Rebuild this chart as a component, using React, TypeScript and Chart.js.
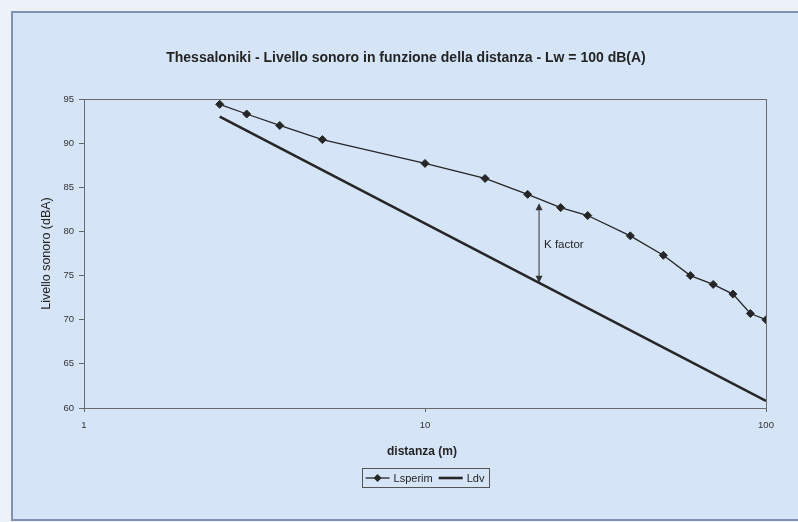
import React, { useEffect, useRef } from "react";
import { Chart, registerables } from "chart.js";

Chart.register(...registerables);

// Distances (m) of the measured profile and the measured levels
const distances = [2.5, 3, 3.75, 5, 10, 15, 20, 25, 30, 40, 50, 60, 70, 80, 90, 100];
const lsperim = [94.4, 93.3, 92.0, 90.4, 87.7, 86.0, 84.2, 82.7, 81.8, 79.5, 77.3, 75.0, 74.0, 72.9, 70.7, 70.0];

// Direct-field level (straight line on the log axis)
const ldvDistances = [2.5, 100];
const ldv = [93.0, 60.8];

// Axis ticks
const xTicks = [1, 10, 100];
const yMin = 60;
const yMax = 95;
const yStep = 5;

// K factor marker
const kDistance = 21.6;
const kTop = 83.2;
const kBottom = 74.2;

const TITLE = "Thessaloniki - Livello sonoro in funzione della distanza - Lw = 100 dB(A)";
const X_TITLE = "distanza (m)";
const Y_TITLE = "Livello sonoro (dBA)";
const K_LABEL = "K factor";

const FONT = "'Liberation Sans', Arial, sans-serif";
const INK = "#242424";
const PAPER = "#d5e4f7";
const OUTSIDE = "#edf2f9";

const decorations = {
  id: "decorations",
  beforeDraw(chart: any) {
    const { ctx, width, height } = chart;
    ctx.save();
    ctx.fillStyle = OUTSIDE;
    ctx.fillRect(0, 0, width, height);
    ctx.fillStyle = PAPER;
    ctx.fillRect(12, 12, width - 12, height - 14);
    ctx.strokeStyle = "#8092b4";
    ctx.lineWidth = 2;
    ctx.strokeRect(12, 12, width + 10, height - 14);
    ctx.restore();
  },
  afterDatasetsDraw(chart: any) {
    const { ctx, chartArea: a, scales } = chart;
    const xs = scales.x;
    const ys = scales.y;
    ctx.save();

    // plot frame
    ctx.strokeStyle = "#6b6b6b";
    ctx.lineWidth = 1;
    ctx.strokeRect(a.left + 0.5, a.top + 0.5, a.right - a.left, a.bottom - a.top);

    // title
    ctx.fillStyle = INK;
    ctx.font = `bold 14px ${FONT}`;
    ctx.textAlign = "center";
    ctx.textBaseline = "middle";
    ctx.fillText(TITLE, 406, 58);

    // axis titles
    ctx.font = `bold 12px ${FONT}`;
    ctx.fillText(X_TITLE, (a.left + a.right) / 2 - 3, 452);
    ctx.save();
    ctx.translate(47, (a.top + a.bottom) / 2);
    ctx.rotate(-Math.PI / 2);
    ctx.font = `12.5px ${FONT}`;
    ctx.fillText(Y_TITLE, 0, 0);
    ctx.restore();

    // K factor double arrow
    const kx = xs.getPixelForValue(kDistance);
    const ky1 = ys.getPixelForValue(kTop);
    const ky2 = ys.getPixelForValue(kBottom);
    ctx.strokeStyle = "#333";
    ctx.fillStyle = "#333";
    ctx.lineWidth = 1;
    ctx.beginPath();
    ctx.moveTo(kx, ky1 + 2);
    ctx.lineTo(kx, ky2 - 2);
    ctx.stroke();
    ctx.beginPath();
    ctx.moveTo(kx, ky1);
    ctx.lineTo(kx - 3.5, ky1 + 7);
    ctx.lineTo(kx + 3.5, ky1 + 7);
    ctx.closePath();
    ctx.fill();
    ctx.beginPath();
    ctx.moveTo(kx, ky2);
    ctx.lineTo(kx - 3.5, ky2 - 7);
    ctx.lineTo(kx + 3.5, ky2 - 7);
    ctx.closePath();
    ctx.fill();
    ctx.font = `11.5px ${FONT}`;
    ctx.textAlign = "left";
    ctx.fillStyle = INK;
    ctx.fillText(K_LABEL, kx + 5, (ky1 + ky2) / 2 + 2);

    // legend
    const ds = chart.data.datasets;
    ctx.font = `11px ${FONT}`;
    const sample = 24;
    const gap = 4;
    const itemGap = 6;
    const widths = ds.map((d: any) => sample + gap + ctx.measureText(d.label).width);
    const total = widths.reduce((s: number, w: number) => s + w, 0) + itemGap * (ds.length - 1) + 8;
    const cx = (a.left + a.right) / 2;
    const ly = 478;
    let lx = cx - total / 2;
    ctx.fillStyle = PAPER;
    ctx.fillRect(lx, ly - 9.5, total, 19);
    ctx.strokeStyle = "#555";
    ctx.lineWidth = 1;
    ctx.strokeRect(Math.round(lx) + 0.5, ly - 9.5, Math.round(total), 19);
    lx += 4;
    ds.forEach((d: any, i: number) => {
      ctx.strokeStyle = d.borderColor;
      ctx.lineWidth = d.borderWidth;
      ctx.beginPath();
      ctx.moveTo(lx, ly);
      ctx.lineTo(lx + sample, ly);
      ctx.stroke();
      if (d.pointRadius > 0) {
        const r = d.pointRadius;
        ctx.fillStyle = d.pointBackgroundColor;
        ctx.beginPath();
        ctx.moveTo(lx + sample / 2, ly - r);
        ctx.lineTo(lx + sample / 2 + r, ly);
        ctx.lineTo(lx + sample / 2, ly + r);
        ctx.lineTo(lx + sample / 2 - r, ly);
        ctx.closePath();
        ctx.fill();
      }
      ctx.fillStyle = INK;
      ctx.textAlign = "left";
      ctx.fillText(d.label, lx + sample + gap, ly + 1);
      lx += widths[i] + itemGap;
    });

    ctx.restore();
  },
};

export default function App() {
  const canvasRef = useRef<HTMLCanvasElement>(null);

  useEffect(() => {
    if (!canvasRef.current) return;
    const chart = new Chart(canvasRef.current, {
      type: "line",
      data: {
        datasets: [
          {
            label: "Lsperim",
            data: distances.map((d, i) => ({ x: d, y: lsperim[i] })),
            borderColor: "#262626",
            borderWidth: 1.3,
            pointStyle: "rectRot",
            pointRadius: 4,
            pointBackgroundColor: "#262626",
            pointBorderColor: "#262626",
            pointBorderWidth: 1,
            tension: 0,
          },
          {
            label: "Ldv",
            data: ldvDistances.map((d, i) => ({ x: d, y: ldv[i] })),
            borderColor: "#262626",
            borderWidth: 2.6,
            pointRadius: 0,
            tension: 0,
          },
        ],
      },
      options: {
        responsive: false,
        animation: false,
        devicePixelRatio: 1,
        layout: { padding: { top: 99, right: 32, bottom: 0, left: 0 } },
        plugins: {
          legend: { display: false },
          title: { display: false },
          tooltip: { enabled: false },
        },
        scales: {
          x: {
            type: "logarithmic",
            min: 1,
            max: 100,
            afterBuildTicks: (s: any) => {
              s.ticks = xTicks.map((v) => ({ value: v }));
            },
            afterFit: (s: any) => {
              s.height = 114;
            },
            ticks: {
              callback: (v: any) => String(v),
              font: { family: FONT, size: 9.5 },
              color: "#333",
              padding: 8,
              maxRotation: 0,
              autoSkip: false,
            },
            grid: {
              display: true,
              drawOnChartArea: false,
              drawTicks: true,
              tickLength: 4,
              color: "#666",
            },
            border: { display: false },
          },
          y: {
            type: "linear",
            min: yMin,
            max: yMax,
            afterFit: (s: any) => {
              s.width = 84;
            },
            ticks: {
              stepSize: yStep,
              font: { family: FONT, size: 9.5 },
              color: "#333",
              padding: 5,
            },
            grid: {
              display: true,
              drawOnChartArea: false,
              drawTicks: true,
              tickLength: 5,
              color: "#666",
            },
            border: { display: false },
          },
        },
      },
      plugins: [decorations],
    } as any);
    return () => chart.destroy();
  }, []);

  return (
    <div style={{ position: "absolute", left: 0, top: 0, width: 798, height: 522 }}>
      <canvas ref={canvasRef} width={798} height={522} style={{ display: "block" }} />
    </div>
  );
}
